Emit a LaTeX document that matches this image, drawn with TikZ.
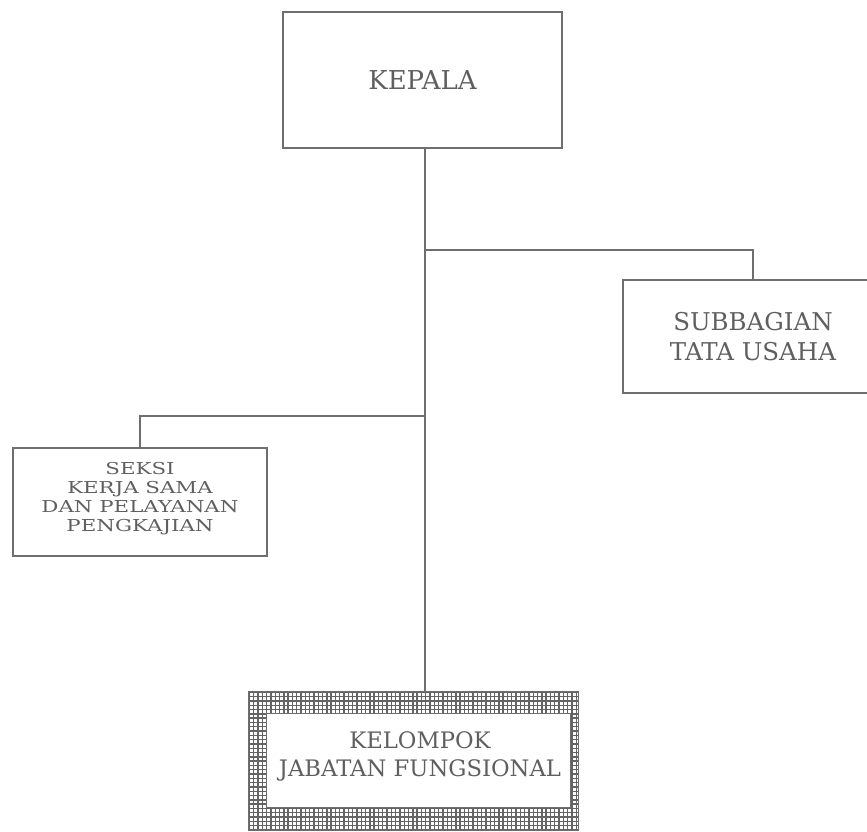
\documentclass[tikz,border=0pt]{standalone}
\usepackage{fontspec}
\setmainfont{DejaVu Serif}
\newfontfamily\widefont[FakeStretch=1.3]{DejaVu Serif}
\definecolor{ink}{RGB}{95,95,95}
\definecolor{linec}{RGB}{110,110,110}
\definecolor{gridc}{RGB}{100,100,100}
\begin{document}
\begin{tikzpicture}[x=1pt,y=-1pt,
  box/.style={draw=linec,line width=1.3pt,inner sep=0pt,text=ink,align=center},
  txt/.style={inner sep=0pt,text=ink,align=center},
  conn/.style={draw=linec,line width=1.2pt}]
\useasboundingbox (0,0) rectangle (867,831);
% boxes
\node[box,minimum width=279pt,minimum height=136pt,font=\fontsize{26}{30}\selectfont] (kepala) at (422.5,80) {KEPALA};
\node[box,minimum width=260pt,minimum height=113pt,font=\fontsize{24.5}{30}\selectfont] (subbag) at (753,336.5) {SUBBAGIAN\\TATA USAHA};
\node[box,minimum width=254pt,minimum height=108pt] (seksi) at (140,502) {};
\node[txt,font=\widefont\fontsize{16.4}{19}\selectfont] (seksitext) at (140,498.5) {SEKSI\\KERJA SAMA\\DAN PELAYANAN\\PENGKAJIAN};
% kelompok frame
\coordinate (kout1) at (248,691);
\coordinate (kout2) at (578,830);
\begin{scope}[even odd rule]
  \clip (248,691) rectangle (578,830) (266,713) rectangle (570,807);
  \fill[white] (248,691) rectangle (578,830);
  \draw[gridc,line width=1.4pt,step=4.3pt] (246,689) grid (580,832);
\end{scope}
\draw[linec,line width=1pt] (kout1) rectangle (kout2);
\draw[linec,line width=0.8pt] (266,713) rectangle (570,807);
\node[txt,minimum width=304pt,minimum height=94pt,font=\fontsize{22.7}{28}\selectfont] (kelompok) at (420,756) {KELOMPOK\\JABATAN FUNGSIONAL};
% connectors
\coordinate (j1) at (425,250);
\coordinate (j2) at (425,416);
\coordinate (bt) at (425,691);
\draw[conn] (kepala.south -| j1) -- (bt);
\draw[conn] (j1) -| (subbag.north);
\draw[conn] (j2) -| (seksi.north);
\end{tikzpicture}
\end{document}
